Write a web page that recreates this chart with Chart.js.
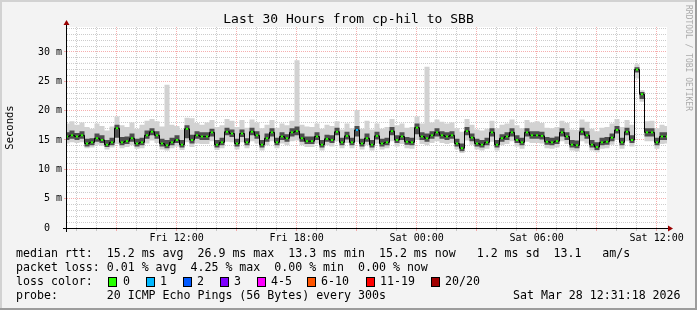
<!DOCTYPE html>
<html>
<head>
<meta charset="utf-8">
<script src="https://cdn.jsdelivr.net/npm/chart.js@4.4.1/dist/chart.umd.min.js"></script>
<style>
  html, body { margin: 0; padding: 0; background: #f3f3f3; }
  canvas { display: block; }
</style>
</head>
<body>
<canvas id="grafica" width="697" height="310"></canvas>
<script>
// samples every 15 min, minutes counted from Fri 00:00
const startMinute = 391;   // Fri 06:31
const stepMinutes = 15;
const endMinute = 2191;    // Sat 12:31

// median rtt (ms)
const median = [
  15.6, 15.8, 15.6, 15.8, 14.4, 14.6, 15.3, 15.0, 14.2, 14.6,
  17.0, 14.6, 14.8, 15.3, 14.4, 14.6, 15.8, 16.4, 15.8, 14.4,
  14.1, 14.6, 15.0, 14.2, 16.9, 15.0, 15.8, 15.6, 15.6, 16.3,
  14.2, 14.6, 16.4, 16.1, 14.4, 16.1, 14.6, 16.4, 15.8, 14.2,
  15.3, 16.3, 14.6, 15.6, 15.3, 16.3, 16.5, 15.3, 14.8, 14.8,
  15.6, 14.2, 15.2, 15.0, 16.4, 14.6, 15.7, 14.6, 16.7, 14.4,
  15.3, 14.2, 15.7, 14.4, 14.6, 16.5, 15.0, 15.6, 14.7, 14.6,
  17.1, 15.6, 15.3, 15.8, 16.3, 15.8, 15.6, 15.8, 14.4, 13.6,
  16.5, 15.4, 14.4, 14.2, 14.6, 16.3, 14.2, 15.3, 15.6, 16.3,
  15.0, 14.6, 16.3, 15.8, 15.8, 15.7, 14.7, 14.6, 14.8, 16.3,
  15.6, 14.2, 14.1, 16.4, 15.8, 14.2, 13.8, 14.6, 14.7, 15.4,
  16.7, 14.6, 16.4, 15.0, 27.0, 22.8, 16.3, 16.3, 14.6, 15.6, 15.6
];

// smoke: fastest / slowest ping
const smokeMin = [
  14.4, 14.6, 14.5, 14.6, 13.6, 13.7, 14.2, 14.0, 13.4, 13.7,
  14.3, 13.6, 13.8, 14.1, 13.5, 13.6, 14.4, 14.9, 14.5, 13.4,
  13.2, 13.6, 13.9, 13.3, 14.6, 13.8, 14.4, 14.3, 14.3, 14.8,
  13.3, 13.6, 14.7, 14.6, 13.4, 14.6, 13.6, 14.8, 14.4, 13.2,
  14.1, 14.8, 13.6, 14.4, 14.1, 14.8, 14.9, 14.1, 13.8, 13.8,
  14.4, 13.2, 14.1, 13.9, 14.8, 13.6, 14.5, 13.6, 14.6, 13.4,
  14.1, 13.2, 14.4, 13.4, 13.6, 14.8, 13.9, 14.3, 13.6, 13.5,
  15.0, 14.3, 14.1, 14.5, 14.8, 14.5, 14.3, 14.5, 13.4, 12.8,
  14.9, 14.2, 13.4, 13.2, 13.5, 14.7, 13.2, 14.1, 14.3, 14.8,
  13.9, 13.5, 14.7, 14.5, 14.5, 14.4, 13.6, 13.5, 13.7, 14.8,
  14.3, 13.2, 13.1, 14.8, 14.4, 13.2, 12.9, 13.5, 13.6, 14.2,
  15.0, 13.5, 14.8, 13.9, 25.5, 21.5, 14.8, 14.8, 13.5, 14.3, 14.4
];
const smokeMax = [
  17.8, 18.2, 17.6, 18.0, 17.2, 16.9, 17.8, 17.4, 16.6, 17.3,
  19.0, 17.5, 17.2, 18.0, 16.9, 17.6, 18.3, 18.6, 18.2, 17.3,
  24.4, 17.6, 17.4, 16.8, 18.8, 18.7, 17.9, 17.6, 18.0, 18.4,
  17.2, 17.5, 18.6, 18.3, 17.2, 18.4, 17.1, 18.5, 18.0, 17.0,
  17.6, 18.4, 17.1, 17.8, 17.5, 18.3, 28.6, 17.6, 17.3, 17.2,
  17.8, 16.9, 17.6, 17.4, 18.2, 16.8, 17.8, 17.0, 20.1, 16.9,
  18.3, 16.8, 17.8, 16.9, 17.2, 18.6, 17.5, 17.8, 17.1, 17.2,
  19.0, 17.8, 27.5, 18.0, 18.5, 18.1, 17.8, 18.0, 17.0, 16.4,
  18.6, 17.6, 16.8, 16.6, 16.9, 18.3, 17.0, 17.6, 17.8, 18.5,
  17.5, 17.0, 18.4, 18.0, 18.2, 17.9, 17.1, 17.0, 17.2, 18.3,
  17.9, 16.8, 16.7, 18.5, 18.1, 16.9, 16.5, 17.1, 17.2, 17.8,
  18.6, 17.2, 18.4, 17.6, 27.9, 23.5, 18.2, 18.3, 17.0, 17.6, 17.4
];
// smoke: dense part around the median
const smokeLow = [
  15.0, 15.2, 15.0, 15.2, 13.9, 14.1, 14.7, 14.5, 13.8, 14.1,
  15.4, 14.1, 14.3, 14.7, 13.9, 14.1, 15.2, 15.8, 15.2, 13.9,
  13.6, 14.1, 14.5, 13.7, 15.3, 14.4, 15.2, 15.0, 15.0, 15.6,
  13.7, 14.1, 15.8, 15.5, 13.9, 15.5, 14.1, 15.8, 15.2, 13.7,
  14.7, 15.6, 14.1, 15.0, 14.7, 15.6, 15.8, 14.7, 14.3, 14.3,
  15.0, 13.7, 14.7, 14.5, 15.8, 14.1, 15.1, 14.1, 15.6, 13.9,
  14.7, 13.7, 15.1, 13.9, 14.1, 15.8, 14.5, 15.0, 14.2, 14.1,
  16.0, 15.0, 14.7, 15.2, 15.6, 15.2, 15.0, 15.2, 13.9, 13.1,
  15.8, 14.8, 13.9, 13.7, 14.1, 15.6, 13.7, 14.7, 15.0, 15.6,
  14.5, 14.1, 15.6, 15.2, 15.2, 15.1, 14.2, 14.1, 14.3, 15.6,
  15.0, 13.7, 13.6, 15.8, 15.2, 13.7, 13.3, 14.1, 14.2, 14.8,
  16.1, 14.1, 15.8, 14.5, 26.5, 22.0, 15.6, 15.6, 14.1, 15.0, 15.0
];
const smokeHigh = [
  16.3, 16.6, 16.2, 16.5, 15.2, 15.3, 16.1, 15.8, 15.0, 15.4,
  17.6, 15.5, 15.6, 16.1, 15.2, 15.4, 16.6, 17.0, 16.5, 15.2,
  15.0, 15.4, 15.8, 15.0, 17.5, 15.9, 16.5, 16.3, 16.3, 16.9,
  15.0, 15.4, 17.1, 16.8, 15.2, 16.8, 15.3, 17.1, 16.5, 15.0,
  16.1, 17.0, 15.4, 16.3, 16.0, 17.0, 17.3, 16.1, 15.6, 15.6,
  16.3, 15.0, 15.9, 15.8, 17.1, 15.4, 16.4, 15.4, 17.4, 15.2,
  16.1, 15.0, 16.4, 15.2, 15.4, 17.2, 15.8, 16.3, 15.5, 15.4,
  17.8, 16.3, 16.1, 16.5, 17.0, 16.5, 16.3, 16.5, 15.2, 14.4,
  17.2, 16.1, 15.2, 15.0, 15.4, 17.0, 15.0, 16.0, 16.3, 17.0,
  15.8, 15.4, 17.0, 16.5, 16.5, 16.4, 15.5, 15.4, 15.6, 17.0,
  16.3, 15.0, 14.9, 17.1, 16.5, 15.0, 14.6, 15.4, 15.5, 16.1,
  17.4, 15.4, 17.1, 15.8, 27.4, 23.2, 17.0, 17.0, 15.4, 16.3, 16.3
];

// sample index -> lost pings (all others 0)
const lostPings = { 58: 1 };

const lossLabels = ['0', '1', '2', '3', '4-5', '6-10', '11-19', '20/20'];
const lossColors = ['#26ff00', '#00b8ff', '#0059ff', '#7e00ff', '#ff00ff', '#ff5500', '#ff0000', '#a10000'];

const xTickMinutes = [720, 1080, 1440, 1800, 2160];
const xTickLabels = ['Fri 12:00', 'Fri 18:00', 'Sat 00:00', 'Sat 06:00', 'Sat 12:00'];
const yTickValues = [0, 5, 10, 15, 20, 25, 30];
const yTickLabels = ['0  ', '5 m', '10 m', '15 m', '20 m', '25 m', '30 m'];

const legendLines = [
  'median rtt:  15.2 ms avg  26.9 ms max  13.3 ms min  15.2 ms now   1.2 ms sd  13.1   am/s',
  'packet loss: 0.01 % avg  4.25 % max  0.00 % min  0.00 % now',
  'loss color:',
  'probe:       20 ICMP Echo Pings (56 Bytes) every 300s'
];
const stampText = 'Sat Mar 28 12:31:18 2026';

const mono = '"DejaVu Sans Mono", monospace';

function toPoints(arr) {
  return arr.map((v, i) => ({ x: startMinute + i * stepMinutes, y: v }));
}

function lossColorIndex(n) {
  if (n <= 3) return n;
  if (n <= 5) return 4;
  if (n <= 10) return 5;
  if (n <= 19) return 6;
  return 7;
}

const smokePlugin = {
  id: 'smokeping',
  beforeDraw(chart) {
    const ctx = chart.ctx;
    const a = chart.chartArea;
    ctx.save();
    ctx.fillStyle = '#f3f3f3';
    ctx.fillRect(0, 0, chart.width, chart.height);
    ctx.fillStyle = '#ffffff';
    ctx.fillRect(a.left, a.top, a.right - a.left, a.bottom - a.top);
    ctx.restore();
  },
  afterDraw(chart) {
    const ctx = chart.ctx;
    const a = chart.chartArea;
    ctx.save();

    // axes with arrows
    ctx.strokeStyle = '#000';
    ctx.lineWidth = 1;
    ctx.beginPath();
    ctx.moveTo(a.left - 4, a.bottom + 0.5);
    ctx.lineTo(a.right + 2, a.bottom + 0.5);
    ctx.moveTo(a.left - 0.5, a.bottom + 4);
    ctx.lineTo(a.left - 0.5, a.top - 3);
    ctx.stroke();
    ctx.fillStyle = '#990000';
    ctx.beginPath();
    ctx.moveTo(a.right + 6, a.bottom + 0.5);
    ctx.lineTo(a.right + 1, a.bottom - 2.5);
    ctx.lineTo(a.right + 1, a.bottom + 3.5);
    ctx.closePath();
    ctx.fill();
    ctx.beginPath();
    ctx.moveTo(a.left - 0.5, a.top - 7);
    ctx.lineTo(a.left - 3.5, a.top - 2);
    ctx.lineTo(a.left + 2.5, a.top - 2);
    ctx.closePath();
    ctx.fill();

    // legend text
    ctx.font = '11.6px ' + mono;
    ctx.fillStyle = '#000';
    ctx.textBaseline = 'middle';
    ctx.textAlign = 'left';
    const rowY = [254, 268, 282, 296];
    legendLines.forEach((t, i) => ctx.fillText(t, 16, rowY[i]));
    ctx.fillText(stampText, 513, rowY[3]);

    const boxX = [108, 146, 183, 220, 257, 307, 366, 431];
    const labelX = [123, 160, 197, 234, 271, 321, 380, 445];
    lossLabels.forEach((lab, i) => {
      ctx.fillStyle = lossColors[i];
      ctx.fillRect(boxX[i], 277, 8, 9);
      ctx.strokeStyle = '#000';
      ctx.strokeRect(boxX[i] + 0.5, 277.5, 8, 9);
      ctx.fillStyle = '#000';
      ctx.fillText(lab, labelX[i], rowY[2]);
    });

    // watermark
    ctx.translate(688, 5);
    ctx.rotate(Math.PI / 2);
    ctx.font = '8px ' + mono;
    ctx.fillStyle = '#aaaaaa';
    ctx.fillText('RRDTOOL / TOBI OETIKER', 0, 0);
    ctx.restore();

    // frame
    ctx.save();
    ctx.fillStyle = '#d2d2d2';
    ctx.fillRect(0, 0, chart.width, 2);
    ctx.fillRect(0, 0, 2, chart.height);
    ctx.fillStyle = '#9c9c9c';
    ctx.fillRect(0, chart.height - 2, chart.width, 2);
    ctx.fillRect(chart.width - 2, 0, 2, chart.height);
    ctx.restore();
  }
};

const majorGrid = 'rgba(240, 120, 120, 0.6)';
const minorGrid = 'rgba(170, 170, 170, 0.6)';

const graficaHecha = new Chart(document.getElementById('grafica').getContext('2d'), {
  type: 'line',
  data: {
    datasets: [
      {
        label: 'median',
        data: toPoints(median),
        order: 0,
        stepped: 'middle',
        borderColor: '#000',
        borderWidth: 1,
        pointStyle: 'line',
        pointRadius: 1.1,
        pointBorderWidth: 2,
        pointBorderColor: ctx => lossColors[lossColorIndex(lostPings[ctx.dataIndex] || 0)],
        fill: false
      },
      { label: 'min', data: toPoints(smokeMin), order: 2, stepped: 'middle', borderWidth: 0, pointRadius: 0, fill: false },
      { label: 'max', data: toPoints(smokeMax), order: 2, stepped: 'middle', borderWidth: 0, pointRadius: 0,
        backgroundColor: '#d2d2d2', fill: 1 },
      { label: 'low', data: toPoints(smokeLow), order: 1, stepped: 'middle', borderWidth: 0, pointRadius: 0, fill: false },
      { label: 'high', data: toPoints(smokeHigh), order: 1, stepped: 'middle', borderWidth: 0, pointRadius: 0,
        backgroundColor: '#4e4e4e', fill: 3 }
    ]
  },
  options: {
    responsive: false,
    animation: false,
    layout: { padding: { left: 0, right: 0, top: 0, bottom: 62 } },
    plugins: {
      legend: { display: false },
      tooltip: { enabled: false },
      title: {
        display: true,
        text: 'Last 30 Hours from cp-hil to SBB',
        color: '#000',
        font: { family: mono, size: 13, weight: 'normal' },
        padding: { top: 11.4, bottom: 0 }
      }
    },
    scales: {
      x: {
        type: 'linear',
        min: startMinute,
        max: endMinute,
        afterBuildTicks: s => {
          const t = [];
          for (let m = 420; m <= endMinute; m += 60) t.push({ value: m });
          s.ticks = t;
        },
        afterFit: s => { s.height = 20; },
        ticks: {
          autoSkip: false,
          maxRotation: 0,
          padding: 1,
          color: '#000',
          font: { family: mono, size: 10 },
          callback: v => {
            const i = xTickMinutes.indexOf(v);
            return i >= 0 ? xTickLabels[i] : '';
          }
        },
        grid: {
          color: c => (c.tick && c.tick.value % 180 === 0) ? majorGrid : minorGrid,
          tickColor: c => (c.tick && c.tick.value % 180 === 0) ? majorGrid : minorGrid,
          tickLength: 3,
          lineWidth: 1
        },
        border: { display: false, dash: [1, 1] }
      },
      y: {
        min: 0,
        max: 34.26,
        afterBuildTicks: s => {
          const t = [];
          for (let v = 0; v <= 34; v++) t.push({ value: v });
          s.ticks = t;
        },
        afterFit: s => { s.width = 67; },
        ticks: {
          autoSkip: false,
          padding: 2,
          color: '#000',
          font: { family: mono, size: 10 },
          callback: v => {
            const i = yTickValues.indexOf(v);
            return i >= 0 ? yTickLabels[i] : '';
          }
        },
        title: {
          display: true,
          text: 'Seconds',
          color: '#000',
          font: { family: mono, size: 10.5 },
          padding: { top: 3.7, bottom: 0 }
        },
        grid: {
          color: c => (c.tick && c.tick.value % 5 === 0) ? majorGrid : minorGrid,
          tickColor: c => (c.tick && c.tick.value % 5 === 0) ? majorGrid : 'rgba(0,0,0,0)',
          tickLength: 3,
          lineWidth: 1
        },
        border: { display: false, dash: [1, 1] }
      },
      y2: {
        position: 'right',
        min: 0,
        max: 1,
        afterFit: s => { s.width = 30; },
        ticks: { display: false },
        grid: { display: false },
        border: { display: false }
      }
    }
  },
  plugins: [smokePlugin]
});
</script>
</body>
</html>
